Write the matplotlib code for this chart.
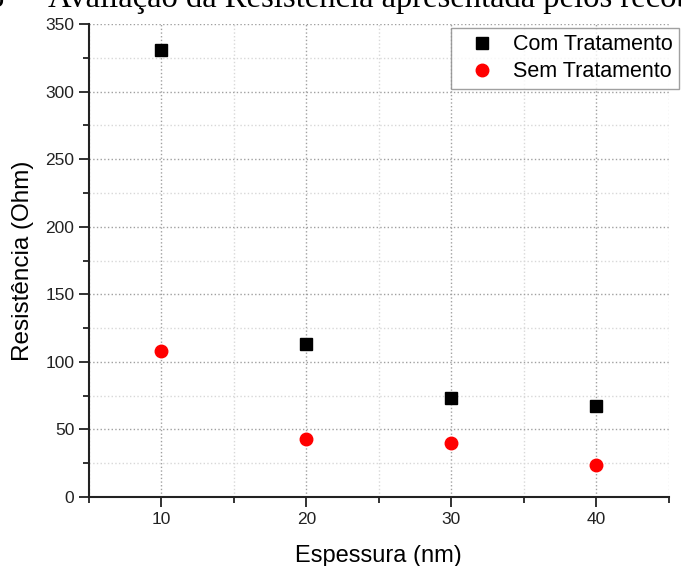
import matplotlib
matplotlib.use("Agg")
import matplotlib.pyplot as plt
from matplotlib.ticker import MultipleLocator

# data
espessura = [10, 20, 30, 40]
com_tratamento = [331, 113, 73, 67]
sem_tratamento = [108, 43, 40, 24]

plt.rcParams['font.family'] = ['Liberation Sans', 'DejaVu Sans']

fig = plt.figure(figsize=(6.81, 5.66), dpi=100)
ax = fig.add_axes([0.1307, 0.1219, 0.8513, 0.8357])

ax.plot(espessura, com_tratamento, 's', color='black', markersize=8.5, label='Com Tratamento', zorder=3)
ax.plot(espessura, sem_tratamento, 'o', color='red', markersize=9, label='Sem Tratamento', zorder=3)

ax.set_xlim(5, 45)
ax.set_ylim(0, 350)
ax.xaxis.set_major_locator(MultipleLocator(10))
ax.xaxis.set_minor_locator(MultipleLocator(5))
ax.yaxis.set_major_locator(MultipleLocator(50))
ax.yaxis.set_minor_locator(MultipleLocator(25))

ax.grid(which='major', color='#a0a0a0', linestyle=':', linewidth=1.0)
ax.grid(which='minor', color='#d8d8d8', linestyle=':', linewidth=1.0)
ax.set_axisbelow(True)

for s in ['top', 'right']:
    ax.spines[s].set_visible(False)
for s in ['left', 'bottom']:
    ax.spines[s].set_linewidth(1.5)
    ax.spines[s].set_color('#222222')

ax.tick_params(which='major', direction='out', length=7, width=1.3, labelsize=12.5, colors='#222222')
ax.tick_params(which='minor', direction='out', length=4, width=1.3, colors='#222222')

ax.set_xlabel('Espessura (nm)', fontsize=17, labelpad=13)
ax.set_ylabel('Resistência (Ohm)', fontsize=17.5, labelpad=8)

leg = ax.legend(loc='upper left', bbox_to_anchor=(0.662, 0.9505), bbox_transform=fig.transFigure,
                borderaxespad=0, fontsize=15.5, frameon=True, fancybox=False,
                handletextpad=0.3, borderpad=0.3, labelspacing=0.27, handlelength=2.3)
leg.get_frame().set_edgecolor('#888888')
leg.get_frame().set_linewidth(1.0)

# caption of the source document, cut off at the top edge
fig.text(0.006, 0.9876, '8', fontsize=23.5, family='Liberation Serif', ha='right', va='baseline')
fig.text(0.071, 0.9876, 'Avaliação da Resistência apresentada pelos recobrimentos',
         fontsize=23.5, family='Liberation Serif', ha='left', va='baseline')

fig.savefig('out.png', dpi=100)
